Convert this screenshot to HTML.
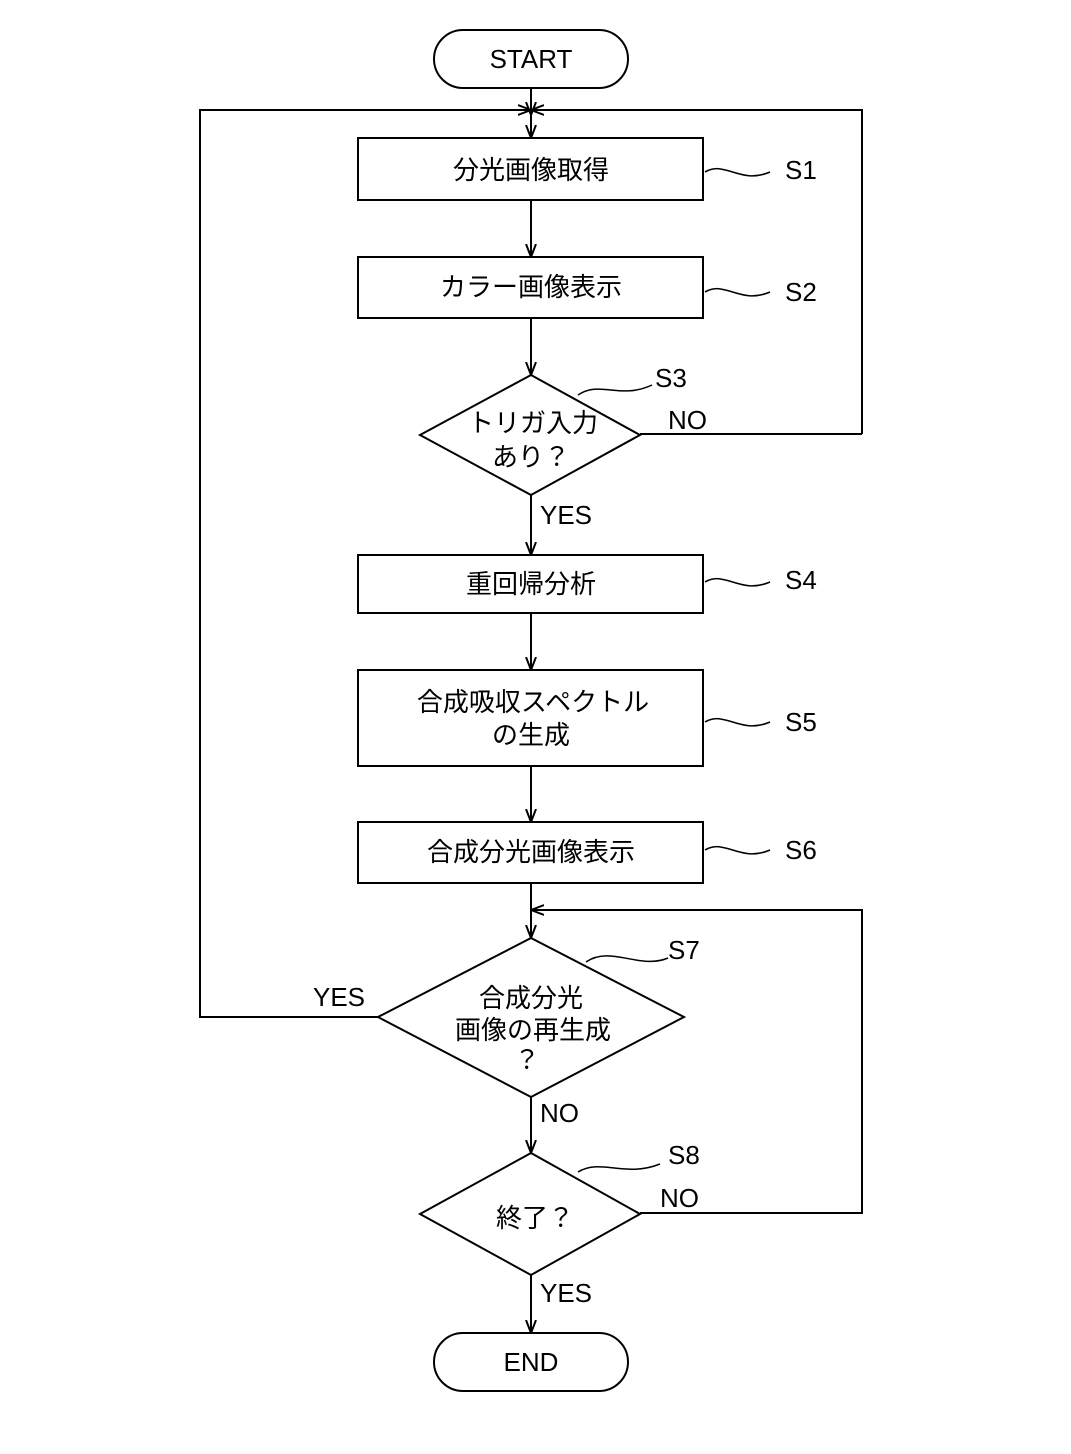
<!DOCTYPE html>
<html><head><meta charset="utf-8"><style>
html,body{margin:0;padding:0;background:#fff;}
svg text{font-family:"Liberation Sans","Noto Sans CJK JP",sans-serif;fill:#000;}
</style></head><body>
<svg width="1071" height="1449" viewBox="0 0 1071 1449" xmlns="http://www.w3.org/2000/svg">
<defs><marker id="a" markerWidth="10" markerHeight="14" refX="5" refY="13" orient="auto-start-reverse" markerUnits="userSpaceOnUse"><path d="M0,0 L5,13 L10,0" fill="none" stroke="#000" stroke-width="2"/></marker>
<marker id="ah" viewBox="0 0 14 14" markerWidth="14" markerHeight="14" refX="13" refY="7" orient="auto" markerUnits="userSpaceOnUse"><path d="M0,2 L13,7 L0,12" fill="none" stroke="#000" stroke-width="2"/></marker></defs>
<g stroke="#000" stroke-width="2" fill="none">
<rect x="434" y="30" width="194" height="58" rx="29"/>
<rect x="358" y="138" width="345" height="62"/>
<rect x="358" y="257" width="345" height="61"/>
<polygon points="531,375 640,435 531,495 420,435"/>
<rect x="358" y="555" width="345" height="58"/>
<rect x="358" y="670" width="345" height="96"/>
<rect x="358" y="822" width="345" height="61"/>
<polygon points="531,938 684,1017 531,1097 378,1017"/>
<polygon points="531,1153 640,1214 531,1275 420,1214"/>
<rect x="434" y="1333" width="194" height="58" rx="29"/>
<line x1="531" y1="88" x2="531" y2="115" marker-end="url(#ah)"/>
<line x1="531" y1="110" x2="531" y2="138" marker-end="url(#ah)"/>
<polyline points="862,434 862,110 531,110" marker-end="url(#ah)"/>
<polyline points="378,1017 200,1017 200,110 531,110" marker-end="url(#ah)"/>
<line x1="531" y1="200" x2="531" y2="257" marker-end="url(#ah)"/>
<line x1="531" y1="318" x2="531" y2="375" marker-end="url(#ah)"/>
<line x1="640" y1="434" x2="862" y2="434"/>
<line x1="531" y1="495" x2="531" y2="555" marker-end="url(#ah)"/>
<line x1="531" y1="613" x2="531" y2="670" marker-end="url(#ah)"/>
<line x1="531" y1="766" x2="531" y2="822" marker-end="url(#ah)"/>
<line x1="531" y1="883" x2="531" y2="938" marker-end="url(#ah)"/>
<polyline points="640,1213 862,1213 862,910 531,910" marker-end="url(#ah)"/>
<line x1="531" y1="1097" x2="531" y2="1153" marker-end="url(#ah)"/>
<line x1="531" y1="1275" x2="531" y2="1333" marker-end="url(#ah)"/>
<path d="M705,172 C725,160 740,185 770,172" stroke-width="1.5"/>
<path d="M705,292 C725,280 740,305 770,292" stroke-width="1.5"/>
<path d="M705,582 C725,570 740,595 770,582" stroke-width="1.5"/>
<path d="M705,722 C725,710 740,735 770,722" stroke-width="1.5"/>
<path d="M705,850 C725,838 740,863 770,850" stroke-width="1.5"/>
<path d="M578,395 C600,380 620,400 652,385" stroke-width="1.5"/>
<path d="M586,962 C610,945 640,970 668,958" stroke-width="1.5"/>
<path d="M578,1172 C600,1158 625,1178 660,1164" stroke-width="1.5"/>
</g>
<g font-size="26" text-anchor="middle" dominant-baseline="central">
<text x="531" y="59">START</text>
<text x="531" y="170">分光画像取得</text>
<text x="531" y="287">カラー画像表示</text>
<text x="533" y="423">トリガ入力</text>
<text x="531" y="457">あり？</text>
<text x="531" y="584">重回帰分析</text>
<text x="533" y="702">合成吸収スペクトル</text>
<text x="531" y="735">の生成</text>
<text x="531" y="852">合成分光画像表示</text>
<text x="531" y="998">合成分光</text>
<text x="533" y="1030">画像の再生成</text>
<text x="527" y="1060">？</text>
<text x="535" y="1218">終了？</text>
<text x="531" y="1362">END</text>
</g>
<g font-size="26" dominant-baseline="central">
<text x="785" y="170">S1</text>
<text x="785" y="292">S2</text>
<text x="655" y="378">S3</text>
<text x="668" y="420">NO</text>
<text x="540" y="515">YES</text>
<text x="785" y="580">S4</text>
<text x="785" y="722">S5</text>
<text x="785" y="850">S6</text>
<text x="668" y="950">S7</text>
<text x="313" y="997">YES</text>
<text x="540" y="1113">NO</text>
<text x="668" y="1155">S8</text>
<text x="660" y="1198">NO</text>
<text x="540" y="1293">YES</text>
</g>
</svg>
</body></html>
